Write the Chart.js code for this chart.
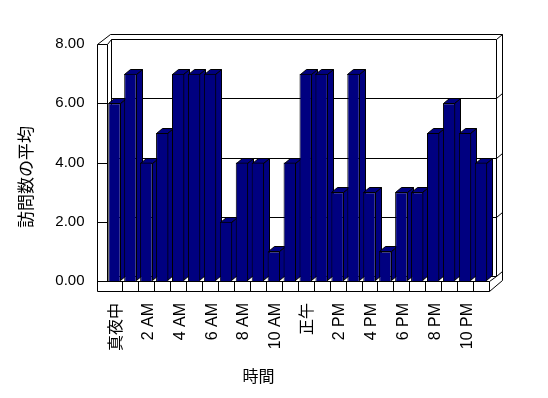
<!DOCTYPE html>
<html>
<head>
<meta charset="utf-8">
<style>
  html, body { margin: 0; padding: 0; background: #fff; }
</style>
<script src="https://cdn.jsdelivr.net/npm/chart.js@4/dist/chart.umd.min.js"></script>
</head>
<body>
<canvas id="c" width="548" height="398"></canvas>
<script>
// data
const hours = ["真夜中", "1 AM", "2 AM", "3 AM", "4 AM", "5 AM", "6 AM", "7 AM", "8 AM", "9 AM", "10 AM", "11 AM",
  "正午", "1 PM", "2 PM", "3 PM", "4 PM", "5 PM", "6 PM", "7 PM", "8 PM", "9 PM", "10 PM", "11 PM"]
const visits = [6, 7, 4, 5, 7, 7, 7, 2, 4, 4, 1, 4, 7, 7, 3, 7, 3, 1, 3, 3, 5, 6, 5, 4]
const yTicks = [0, 2, 4, 6, 8]
const xTitle = "時間"
const yTitle = "訪問数の平均"

const NAVY = "#000080"
const latin = "'Liberation Sans', Arial, 'Noto Sans CJK JP', sans-serif"
const DX = 6, DY = -5 // bar depth

const px = v => Math.round(v) + 0.5

function line(ctx, x1, y1, x2, y2) {
  ctx.beginPath()
  ctx.moveTo(px(x1), px(y1))
  ctx.lineTo(px(x2), px(y2))
  ctx.stroke()
}

function poly(ctx, pts) {
  ctx.beginPath()
  pts.forEach(([x, y], i) => i ? ctx.lineTo(x, y) : ctx.moveTo(x, y))
  ctx.closePath()
  ctx.fill()
  ctx.stroke()
}

const box3d = {
  id: "box3d",
  beforeDatasetsDraw(chart) {
    const { ctx, chartArea: { left: L, right: R, top: T, bottom: B }, scales: { x, y } } = chart
    const fx = L - 9.5
    const bx0 = L + 4.5, bx1 = R + 7, by0 = T - 5, by1 = B - 5
    const ox1 = R + 13, oy0 = T - 10
    ctx.save()
    ctx.strokeStyle = "#000"
    ctx.lineWidth = 1

    // back wall
    line(ctx, bx0, by0, bx1, by0)
    line(ctx, bx0, by0, bx0, by1)
    line(ctx, bx1, by0, bx1, by1)
    line(ctx, bx0, by1, bx1, by1)
    line(ctx, L + 3, oy0, ox1, oy0)
    line(ctx, ox1, oy0, ox1, B - 1)
    line(ctx, bx1, by0, ox1, oy0)
    yTicks.forEach(v => {
      const gy = y.getPixelForValue(v) + DY
      if (v > 0 && v < 8) line(ctx, bx0, gy, bx1, gy)
      if (v < 8) line(ctx, bx1, gy, ox1, gy - 5)
    })

    // left wall
    line(ctx, fx, T, fx, B + 10)
    line(ctx, L, T, L, B)
    line(ctx, fx, T, L + 3, oy0)
    line(ctx, L, T, bx0, by0)
    yTicks.forEach(v => {
      const ty = y.getPixelForValue(v)
      line(ctx, fx, ty, L, ty)
    })

    // floor
    line(ctx, fx, B, R, B)
    line(ctx, fx, B + 10, R, B + 10)
    line(ctx, R, B, R, B + 10)
    line(ctx, R, B + 10, ox1, B - 1)
    line(ctx, R, B, bx1, by1)
    for (let i = 1; i < hours.length; i++) {
      const sx = (x.getPixelForValue(i) + x.getPixelForValue(i - 1)) / 2
      line(ctx, sx, B, sx, B + 10)
    }

    // bar tops and sides
    ctx.fillStyle = NAVY
    chart.getDatasetMeta(0).data.forEach(bar => {
      const l = Math.round(bar.x - bar.width / 2) + 0.5
      const r = Math.round(bar.x + bar.width / 2) - 0.5
      const t = Math.round(bar.y) + 0.5
      const b = Math.round(bar.base) - 0.5
      poly(ctx, [[r, t], [r + DX, t + DY], [r + DX, b + DY], [r, b]])
      poly(ctx, [[l, t], [l + DX, t + DY], [r + DX, t + DY], [r, t]])
    })
    ctx.restore()
  },
  afterDraw(chart) {
    const { ctx } = chart
    ctx.save()
    ctx.fillStyle = "#000"
    ctx.textAlign = "center"
    ctx.textBaseline = "middle"
    ctx.font = "16px 'Noto Sans CJK JP', sans-serif"
    ctx.fillText(xTitle, 258.5, 375.5)
    ctx.translate(26, 177)
    ctx.rotate(-Math.PI / 2)
    ctx.font = "17px 'Noto Sans CJK JP', sans-serif"
    ctx.fillText(yTitle, 0, 0)
    ctx.restore()
  }
}

new Chart(document.getElementById("c"), {
  type: "bar",
  data: {
    labels: hours,
    datasets: [{
      data: visits,
      backgroundColor: NAVY,
      borderColor: "#000",
      borderWidth: 1,
      categoryPercentage: 1,
      barPercentage: 0.78
    }]
  },
  options: {
    responsive: false,
    animation: false,
    devicePixelRatio: 1,
    layout: { padding: { top: 44, right: 59, bottom: 0, left: 0 } },
    plugins: { legend: { display: false }, tooltip: { enabled: false } },
    scales: {
      x: {
        grid: { display: false, drawTicks: false },
        border: { display: false },
        ticks: {
          autoSkip: false,
          minRotation: 90,
          maxRotation: 90,
          padding: 22,
          labelOffset: 2,
          color: "#000",
          font: { family: latin, size: 16 },
          callback: (v, i) => i % 2 === 0 ? hours[i] : ""
        },
        afterFit: s => { s.height = 117 }
      },
      y: {
        min: 0,
        max: 8,
        grid: { display: false, drawTicks: false },
        border: { display: false },
        ticks: {
          stepSize: 2,
          padding: 22,
          color: "#000",
          font: { family: latin, size: 15 },
          callback: v => v.toFixed(2)
        },
        afterFit: s => { s.width = 106.5 }
      }
    }
  },
  plugins: [box3d]
})
</script>
</body>
</html>
